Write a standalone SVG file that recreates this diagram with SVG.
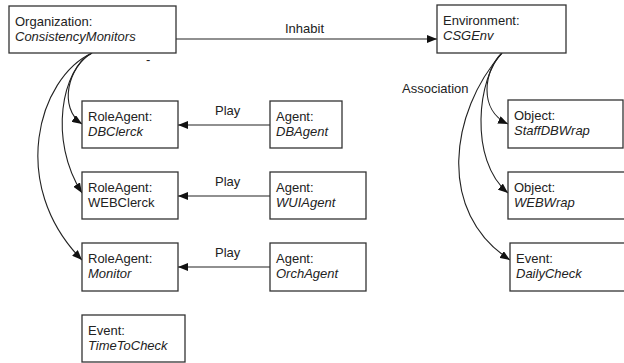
<svg xmlns="http://www.w3.org/2000/svg" width="624" height="363" viewBox="0 0 624 363">
<style>
  .box { fill: #ffffff; stroke: #333333; stroke-width: 1.3; }
  text { font-family: "Liberation Sans", Arial, sans-serif; font-size: 13px; fill: #222222; }
  .it { font-style: italic; }
  .edge { fill: none; stroke: #222222; stroke-width: 1.1; }
</style>
<defs>
  <marker id="arr" viewBox="0 0 10 8" refX="10" refY="4" markerWidth="10" markerHeight="8" markerUnits="userSpaceOnUse" orient="auto">
    <path d="M0,0 L10,4 L0,8 Z" fill="#111111"/>
  </marker>
</defs>
<rect width="624" height="363" fill="#ffffff"/>

<g id="connectors">
  <path class="edge" d="M176,39 L437,39" marker-end="url(#arr)"/>
  <text x="285" y="33">Inhabit</text>
  <text x="146" y="64">-</text>
  <path class="edge" d="M270,125 L178,125" marker-end="url(#arr)"/>
  <text x="215" y="115">Play</text>
  <path class="edge" d="M270,196 L178,196" marker-end="url(#arr)"/>
  <text x="215" y="186">Play</text>
  <path class="edge" d="M270,267 L178,267" marker-end="url(#arr)"/>
  <text x="215" y="257">Play</text>
  <path class="edge" d="M92,53 C68,66 58,108 82,124" marker-end="url(#arr)"/>
  <path class="edge" d="M92,53 C62,68 48,140 82,193" marker-end="url(#arr)"/>
  <path class="edge" d="M92,53 C38,78 8,185 82,260" marker-end="url(#arr)"/>
  <path class="edge" d="M502,53 C484,70 478,110 508,124" marker-end="url(#arr)"/>
  <path class="edge" d="M502,53 C478,76 468,160 508,193" marker-end="url(#arr)"/>
  <path class="edge" d="M502,53 C450,112 436,212 510,260" marker-end="url(#arr)"/>
  <text x="402" y="93">Association</text>
</g>

<g id="organization">
  <rect class="box" x="9" y="6" width="167" height="47"/>
  <text x="15" y="26">Organization:</text>
  <text class="it" x="15" y="41">ConsistencyMonitors</text>
</g>
<g id="environment">
  <rect class="box" x="437" y="5" width="129" height="48"/>
  <text x="443" y="25">Environment:</text>
  <text class="it" x="443" y="40">CSGEnv</text>
</g>

<g id="role-dbclerck">
  <rect class="box" x="82" y="101" width="96" height="47"/>
  <text x="88" y="121">RoleAgent:</text>
  <text class="it" x="88" y="136">DBClerck</text>
</g>
<g id="role-webclerck">
  <rect class="box" x="82" y="172" width="96" height="47"/>
  <text x="88" y="192">RoleAgent:</text>
  <text x="88" y="207">WEBClerck</text>
</g>
<g id="role-monitor">
  <rect class="box" x="82" y="243" width="96" height="48"/>
  <text x="88" y="263">RoleAgent:</text>
  <text class="it" x="88" y="278">Monitor</text>
</g>
<g id="event-timetocheck">
  <rect class="box" x="82" y="315" width="103" height="47"/>
  <text x="88" y="335">Event:</text>
  <text class="it" x="88" y="350">TimeToCheck</text>
</g>

<g id="agent-dbagent">
  <rect class="box" x="270" y="101" width="72" height="47"/>
  <text x="276" y="121">Agent:</text>
  <text class="it" x="276" y="136">DBAgent</text>
</g>
<g id="agent-wuiagent">
  <rect class="box" x="270" y="172" width="96" height="47"/>
  <text x="276" y="192">Agent:</text>
  <text class="it" x="276" y="207">WUIAgent</text>
</g>
<g id="agent-orchagent">
  <rect class="box" x="270" y="243" width="96" height="48"/>
  <text x="276" y="263">Agent:</text>
  <text class="it" x="276" y="278">OrchAgent</text>
</g>

<g id="object-staffdbwrap">
  <rect class="box" x="508" y="100" width="115" height="48"/>
  <text x="514" y="120">Object:</text>
  <text class="it" x="514" y="135">StaffDBWrap</text>
</g>
<g id="object-webwrap">
  <rect class="box" x="508" y="172" width="120" height="47"/>
  <text x="514" y="192">Object:</text>
  <text class="it" x="514" y="207">WEBWrap</text>
</g>
<g id="event-dailycheck">
  <rect class="box" x="510" y="243" width="120" height="48"/>
  <text x="516" y="263">Event:</text>
  <text class="it" x="516" y="278">DailyCheck</text>
</g>
</svg>
